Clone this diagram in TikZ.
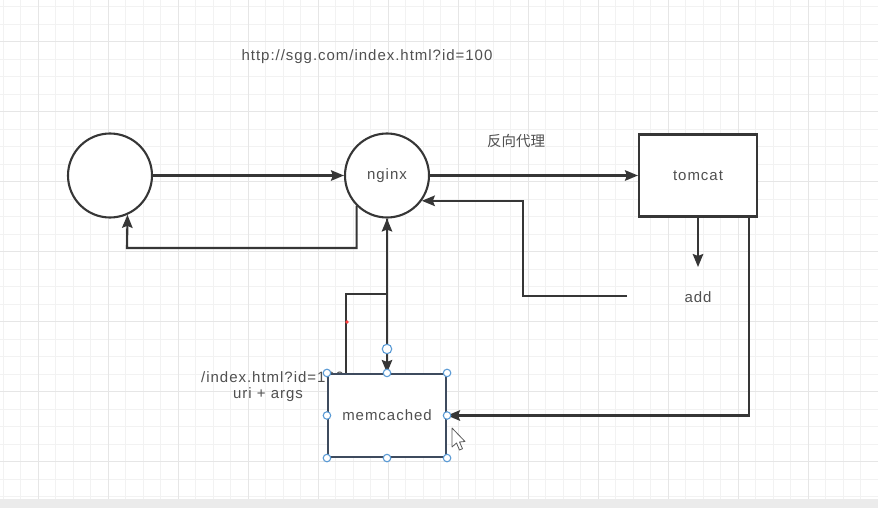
\documentclass[tikz,border=0pt]{standalone}
\usepackage{fontspec}
\setmainfont{Liberation Sans}
\newfontfamily\cjkfont{Noto Sans CJK SC}
\usetikzlibrary{arrows.meta,calc}
\definecolor{ln}{HTML}{363636}
\definecolor{txt}{HTML}{505050}
\definecolor{gridminor}{HTML}{F2F2F2}
\definecolor{gridmajor}{HTML}{E6E6E6}
\definecolor{selblue}{HTML}{5B9BD5}
\definecolor{selline}{HTML}{3E4B5E}
\definecolor{bandgray}{HTML}{EBEBEB}
\newcommand\lblfont{\fontsize{15}{18}\selectfont\addfontfeature{LetterSpace=6.5}}
\begin{document}
\begin{tikzpicture}[x=1pt,y=-1pt,
  every node/.style={text=txt,font=\lblfont},
  circ/.style={draw=ln,line width=2.1pt,circle,fill=white,minimum size=84pt,inner sep=0pt},
  boxn/.style={draw=ln,line width=2.1pt,rectangle,fill=white,minimum width=118pt,minimum height=82pt,inner sep=0pt},
  arr/.style={draw=ln,line width=2.1pt,-{Stealth[length=13pt,width=10.5pt,inset=2pt]}},
  handle/.style={draw=selblue,fill=white,line width=1.1pt,circle,inner sep=0pt,minimum size=7.5pt},
  lbl/.style={inner sep=0pt}]
% background
\fill[white] (0,0) rectangle (878,508);
\useasboundingbox (0,0) rectangle (878,508);
\foreach \i in {0,...,50}{
  \pgfmathsetmacro\xx{3.3+17.5*\i}
  \draw[gridminor,line width=0.9pt] (\xx,0) -- (\xx,499);
}
\foreach \i in {0,...,28}{
  \pgfmathsetmacro\yy{6.5+17.5*\i}
  \ifdim \yy pt<499pt \draw[gridminor,line width=0.9pt] (0,\yy) -- (878,\yy);\fi
}
\foreach \i in {0,...,12}{
  \pgfmathsetmacro\xx{38.3+70*\i}
  \draw[gridmajor,line width=1.2pt] (\xx,0) -- (\xx,499);
}
\foreach \i in {0,...,6}{
  \pgfmathsetmacro\yy{41.5+70*\i}
  \draw[gridmajor,line width=1.2pt] (0,\yy) -- (878,\yy);
}
\fill[bandgray] (0,499) rectangle (878,508);

% title
\node[lbl] (url) at (367,57) {http://sgg.com/index.html?id=100};

% nodes
\node[circ] (client) at (110,175.5) {};
\node[circ] (nginx) at (387,175.5) {nginx};
\node[boxn] (tomcat) at (698,175.5) {tomcat};
\node[lbl] (proxy) at (516,141) {\cjkfont\fontsize{14.5}{17}\selectfont 反向代理};
\node[lbl] (add) at (698,297) {add};

% labels left of memcached (partly hidden by the box)
\node[lbl,anchor=west] (reqlbl) at (201,377) {/index.html?id=100};
\node[lbl] (args) at (268,395) {uri + args};

% coordinates
\coordinate (c1) at (127,248);
\coordinate (addl) at (627,296);
\coordinate (addc) at (523,296);
\coordinate (addtop) at (698,267);
\coordinate (mj) at (387,294);

% memcached box
\node[draw=selline,line width=2.1pt,rectangle,fill=white,minimum width=118pt,minimum height=83pt,inner sep=0pt] (mem) at (387,415.5) {memcached};

% connectors
\draw[arr] (client.east) -- (nginx.west);
\draw[arr] (nginx.-135) |- (c1) -- (client.-66);
\draw[arr] (nginx.east) -- (tomcat.west);
\draw[arr] (addl) -- (addc) |- (nginx.-36.5);
\draw[arr] (tomcat.south) -- (addtop);
\draw[arr] ($(tomcat.south east)+(-9,0)$) |- (mem.east);
\draw[arr] ($(mem.north west)+(19,0)$) |- (mj) -- (nginx.south);
\draw[arr] (nginx.south) -- (mem.north);
\fill[red!75] (347,322) circle (1.8);

% selection handles
\foreach \a in {north west,north,north east,west,east,south west,south,south east}{
  \node[handle] at (mem.\a) {};
}
\node[handle,minimum size=9.5pt] (rot) at (387,349) {};

% mouse cursor
\draw[gray!70!black,fill=white,line width=0.8pt,line join=round]
  (452,428) -- (452,447) -- (456.5,443) -- (459.5,450) -- (462.5,448.7) -- (459.5,442) -- (465,441.5) -- cycle;
\end{tikzpicture}
\end{document}
